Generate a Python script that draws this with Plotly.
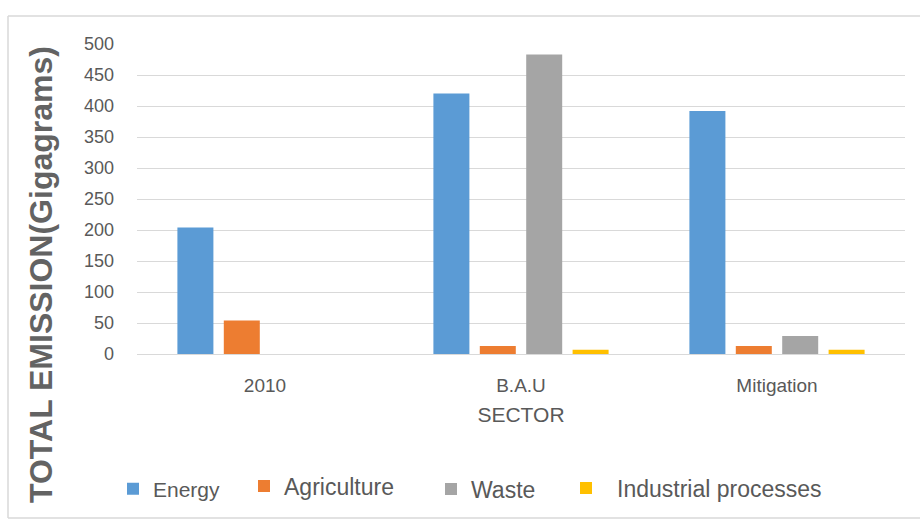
import plotly.graph_objects as go

# Emission totals by scenario
scenarios = ["2010", "B.A.U", "Mitigation"]
energy = [204, 420, 392]
agriculture = [54, 13, 13]
waste = [0, 483, 29]
industrial = [0, 7, 7]

series_names = ["Energy", "Agriculture", "Waste", "Industrial processes"]
series_colors = ["#5b9bd5", "#ed7d31", "#a5a5a5", "#ffc000"]
y_ticks = [0, 50, 100, 150, 200, 250, 300, 350, 400, 450, 500]

W, H = 920, 521
L, R, T, B = 137, 15, 44, 167   # plot area: x 137..905, y 44..354
pw, ph = W - L - R, H - T - B

def px_x(x):
    return (x - L) / pw

def px_y(y):
    return (H - B - y) / ph

text_grey = "#595959"
font_family = "Liberation Sans, Arial, sans-serif"

fig = go.Figure()
legend_ids = ["legend", "legend2", "legend3", "legend4"]
for name, vals, col, lg in zip(series_names, [energy, agriculture, waste, industrial],
                              series_colors, legend_ids):
    fig.add_trace(go.Bar(x=scenarios, y=vals, name=name, marker_color=col,
                         marker_line_width=0, legend=lg))

# each legend entry sits at its own spot along the bottom
legend_left_px = [113, 244, 431, 555]
legend_font_sizes = [21, 23, 23, 23]
legend_item_widths = [30, 30, 30, 52]
legend_y_px = [489, 486, 489, 488]
legend_layout = {}
for lg, lx, fs, iw, ly in zip(legend_ids, legend_left_px, legend_font_sizes,
                              legend_item_widths, legend_y_px):
    legend_layout[lg] = dict(
        x=lx / W, y=1 - ly / H, xref="container", yref="container",
        xanchor="left", yanchor="middle", orientation="h", itemwidth=iw,
        bgcolor="rgba(0,0,0,0)", borderwidth=0,
        font=dict(family=font_family, size=fs, color=text_grey),
    )

fig.update_layout(
    width=W, height=H,
    margin=dict(l=L, r=R, t=T, b=B),
    paper_bgcolor="white", plot_bgcolor="white",
    barmode="group", bargap=0.275, bargroupgap=0.224,
    font=dict(family=font_family, color=text_grey),
    showlegend=True,
    **legend_layout,
)

fig.update_xaxes(
    showgrid=False, showline=False, zeroline=False, ticks="",
    tickfont=dict(size=19, color=text_grey), ticklabelstandoff=18,
    title=dict(text="SECTOR", font=dict(size=21, color=text_grey), standoff=12),
)
fig.update_yaxes(
    range=[0, 500], tickvals=y_ticks, ticktext=[str(v) for v in y_ticks],
    showgrid=True, gridcolor="#d9d9d9", gridwidth=1,
    zeroline=True, zerolinecolor="#d9d9d9", zerolinewidth=1,
    showline=False, ticks="",
    tickfont=dict(size=18, color=text_grey), ticklabelstandoff=22,
)

# vertical axis title
fig.add_annotation(
    text="<b>TOTAL EMISSION(Gigagrams)</b>", textangle=-90,
    xref="paper", yref="paper", x=px_x(41), y=px_y(275),
    xanchor="center", yanchor="middle", showarrow=False,
    font=dict(family=font_family, size=32, color="#636363"),
)

# chart frame
frame = dict(type="line", xref="paper", yref="paper",
             line=dict(color="#d9d9d9", width=1.5), layer="below")
fig.add_shape(x0=px_x(8), x1=px_x(920), y0=px_y(16), y1=px_y(16), **frame)
fig.add_shape(x0=px_x(8), x1=px_x(8), y0=px_y(16), y1=px_y(518), **frame)
fig.add_shape(x0=px_x(8), x1=px_x(920), y0=px_y(518), y1=px_y(518), **frame)

fig.write_html("out.html")
